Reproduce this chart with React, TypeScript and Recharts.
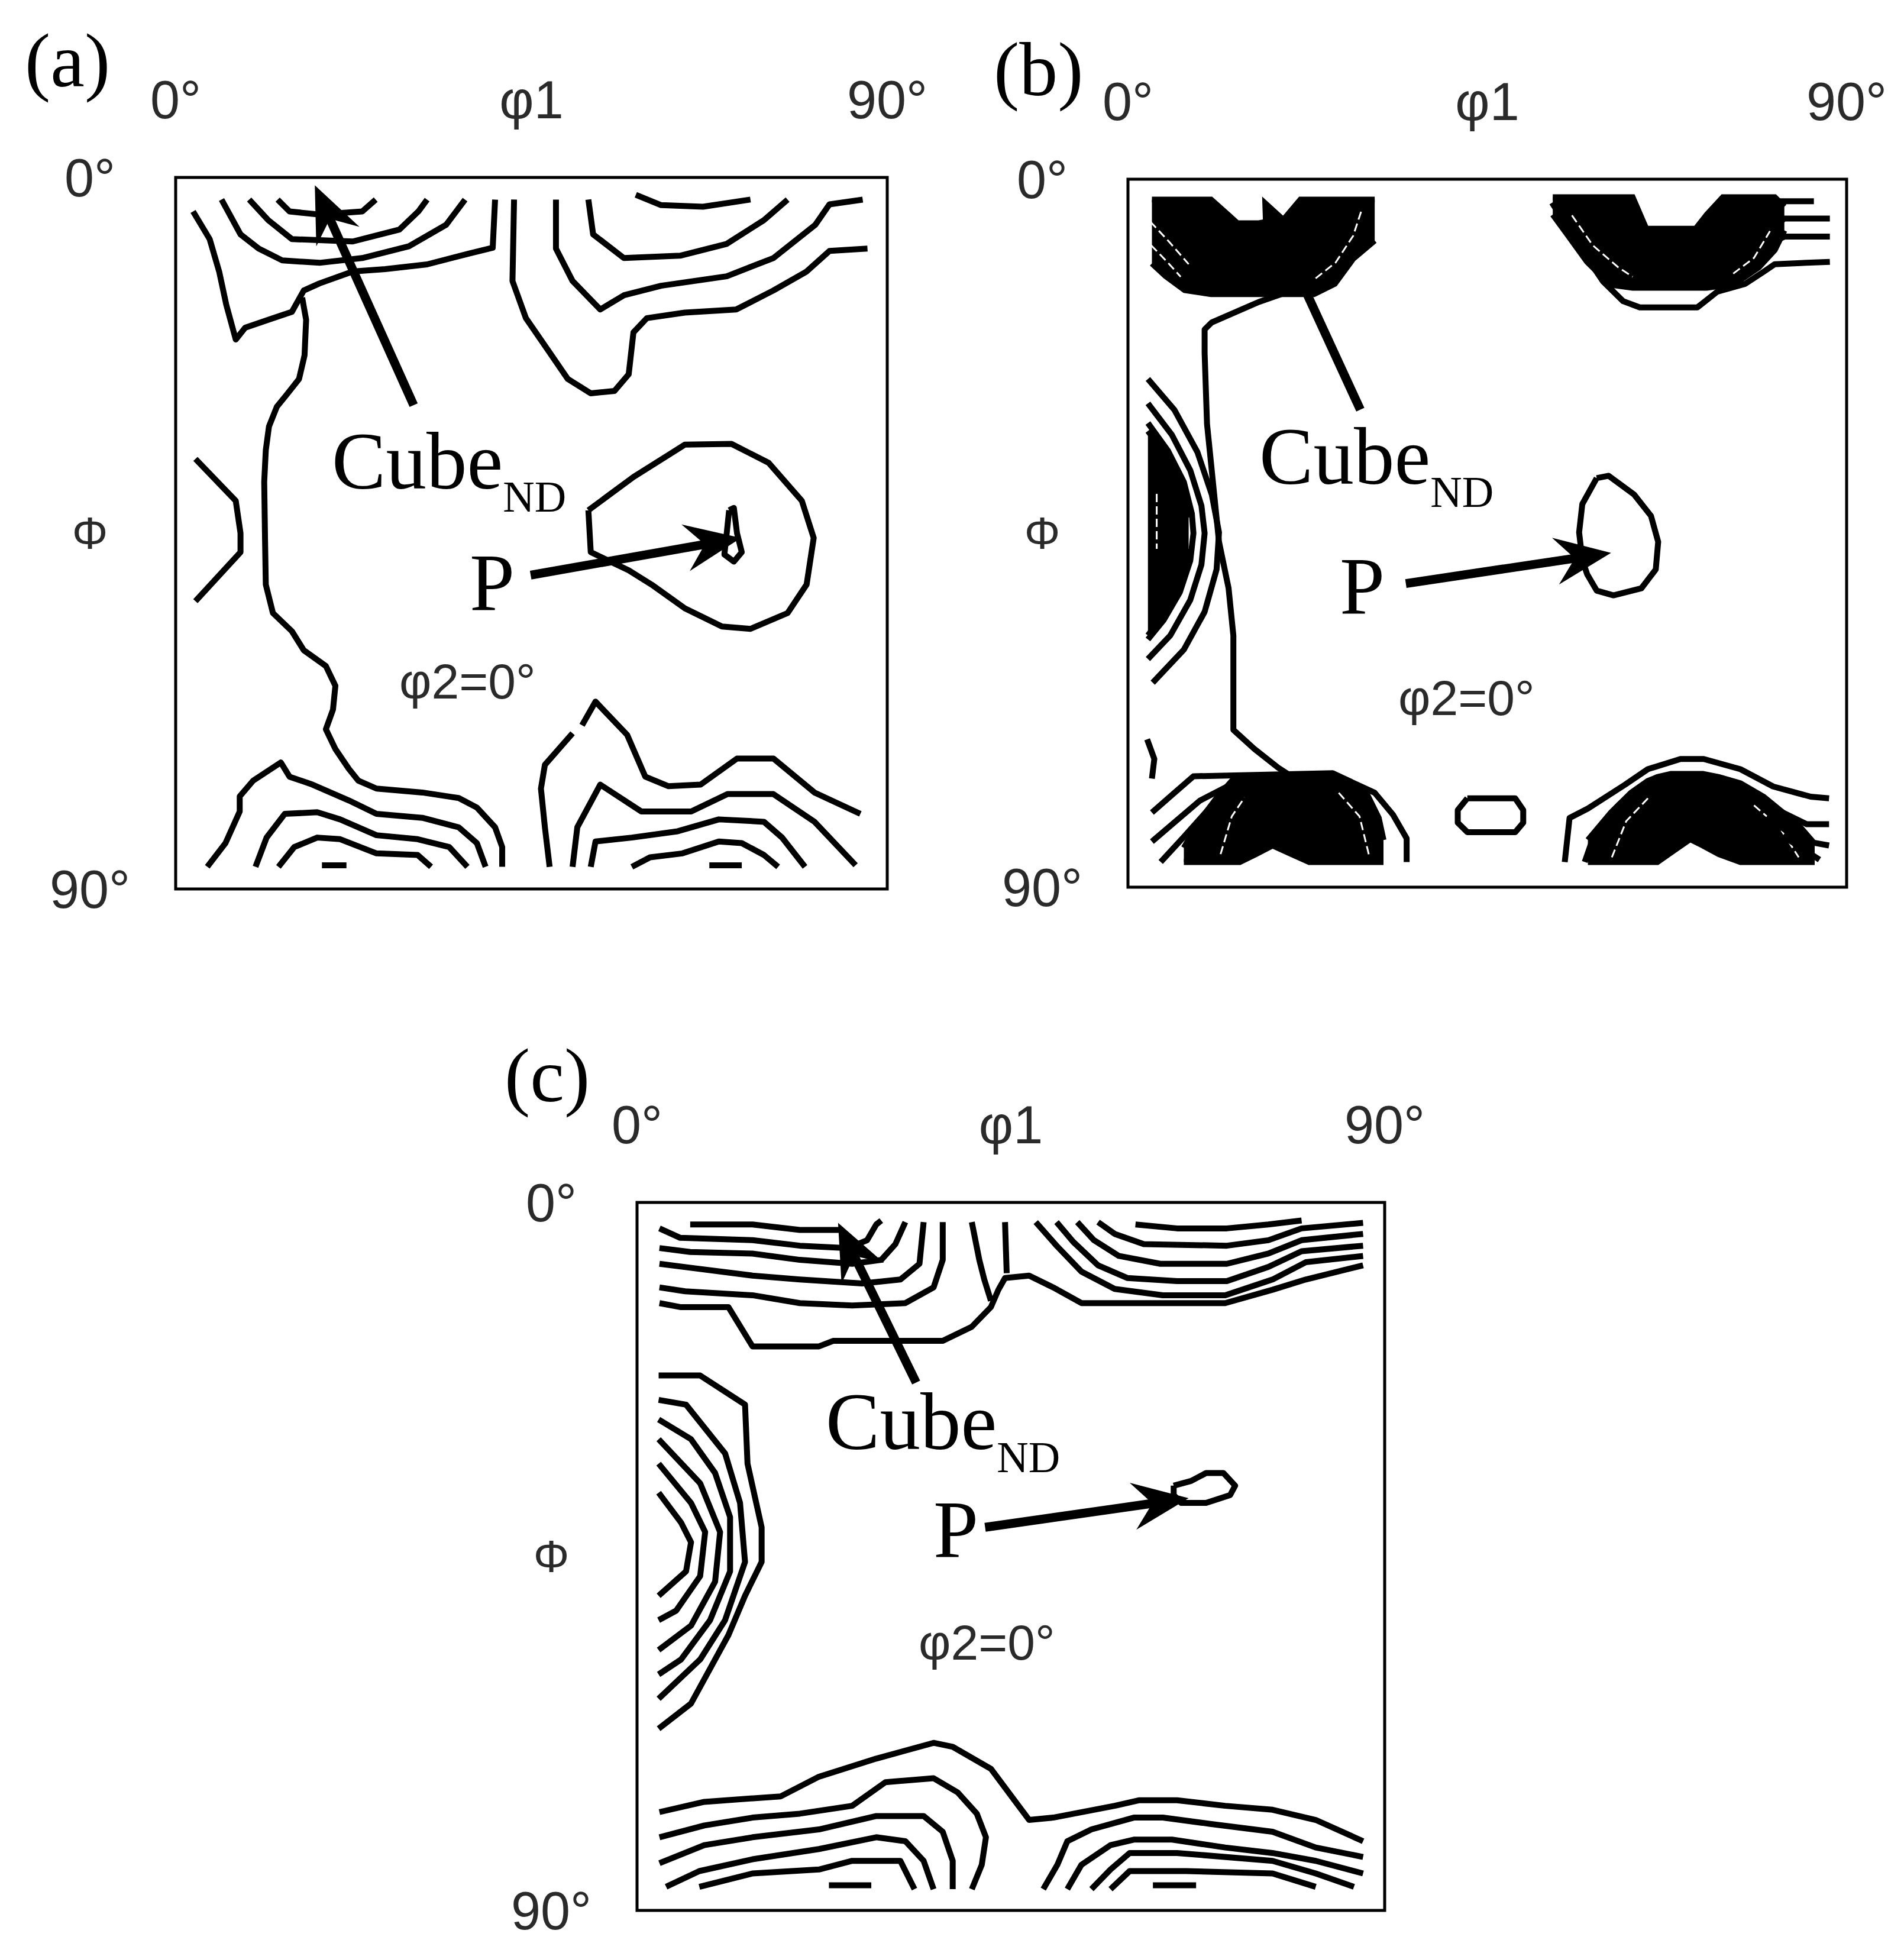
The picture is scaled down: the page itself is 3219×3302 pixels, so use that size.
import React from "react"
import {
  ComposedChart,
  Line,
  Area,
  XAxis,
  YAxis,
  ReferenceArea,
  ReferenceLine,
} from "recharts"

type Pt = [number, number]
type Band = [number, number, number]

// axis ticks (degrees) and their labels
const phi1Ticks = [0, 45, 90]
const phi1TickLabels = ["0°", "φ1", "90°"]
const bigPhiTicks = [0, 45, 90]
const bigPhiTickLabels = ["0°", "Φ", "90°"]

// ---------- (a) contour lines, [phi1, Phi] in degrees ----------
const aTL1: Pt[] = [[2.2, 4.3], [4.3, 7.8], [5.5, 11.9], [6.4, 16.1], [7.6, 20.5], [8.8, 19.0], [12.3, 17.8], [14.7, 17.0], [16.2, 14.3], [18.2, 13.4], [22.4, 11.9], [26.5, 11.6], [31.8, 11.0], [37.2, 9.6], [40.1, 8.9], [40.4, 2.8]]
const aTL2: Pt[] = [[5.8, 2.8], [8.2, 7.2], [10.5, 9.0], [13.5, 10.5], [18.2, 10.8], [23.6, 10.2], [29.5, 8.7], [34.2, 6.0], [36.6, 2.8]]
const aTL3: Pt[] = [[9.3, 2.8], [11.7, 5.4], [14.7, 7.8], [22.4, 8.1], [28.3, 6.6], [30.7, 4.3], [31.8, 2.8]]
const aTL4: Pt[] = [[12.9, 2.8], [14.4, 4.3], [18.2, 4.7], [23.6, 4.3], [25.3, 2.8]]
const aTR1: Pt[] = [[42.8, 2.8], [42.6, 13.1], [44.3, 17.8], [47.2, 22.0], [49.6, 25.5], [52.5, 27.3], [55.5, 27.0], [57.3, 24.9], [57.9, 19.6], [59.6, 17.8], [64.4, 17.1], [70.9, 16.7], [75.6, 14.3], [79.8, 11.9], [82.7, 9.3], [87.5, 9.0]]
const aTR2: Pt[] = [[48.1, 2.8], [48.1, 9.0], [50.2, 13.1], [53.7, 16.7], [56.7, 14.9], [61.4, 13.7], [69.7, 12.5], [75.6, 10.2], [80.9, 6.0], [82.7, 3.4], [86.9, 2.8]]
const aTR3: Pt[] = [[52.2, 2.8], [52.8, 7.2], [56.7, 10.2], [63.8, 9.9], [69.7, 8.4], [74.4, 5.4], [77.4, 2.8]]
const aTR4: Pt[] = [[58.2, 2.2], [61.4, 3.5], [66.7, 3.7], [72.7, 2.8]]
const aLeft: Pt[] = [[2.5, 35.6], [7.6, 40.9], [8.2, 45.0], [8.2, 47.4], [2.5, 53.6]]
const aWiggle: Pt[] = [[16.0, 15.2], [16.5, 18.0], [16.3, 22.5], [15.6, 25.5], [14.1, 27.4], [12.8, 29.0], [11.8, 31.5], [11.4, 34.5], [11.2, 38.5], [11.3, 45.6], [11.4, 51.5], [12.3, 55.1], [14.7, 57.4], [16.2, 59.8], [19.0, 61.8], [20.2, 64.3], [19.9, 67.3], [19.0, 69.8], [20.2, 72.3], [21.9, 74.8], [23.1, 76.3], [25.4, 77.3], [31.2, 77.8], [35.8, 78.5], [38.1, 79.7], [40.4, 82.2], [41.3, 84.7], [41.3, 87.2]]
const aPLoop: Pt[] = [[52.2, 42.1], [57.9, 37.9], [64.4, 33.8], [70.3, 33.7], [75.0, 36.1], [79.2, 40.9], [80.7, 45.6], [79.8, 51.5], [77.4, 55.1], [72.7, 57.1], [69.1, 56.8], [64.4, 54.5], [60.2, 51.5], [57.3, 49.7], [52.5, 47.4], [52.2, 42.1]]
const aPCore: Pt[] = [[70.0, 42.1], [70.6, 41.8], [71.0, 45.0], [71.6, 47.4], [70.6, 48.6], [69.4, 47.7], [69.7, 45.0], [70.0, 42.1]]
const aBL1: Pt[] = [[4.0, 87.2], [6.3, 84.2], [8.1, 80.2], [8.1, 78.3], [9.8, 76.3], [13.3, 74.0], [14.4, 75.8], [17.3, 76.8], [21.9, 78.8], [25.4, 80.5], [31.2, 81.0], [35.8, 82.2], [38.1, 84.2], [39.2, 87.2]]
const aBL2: Pt[] = [[10.1, 87.2], [11.5, 83.5], [13.8, 80.5], [17.9, 80.3], [20.8, 81.2], [25.4, 83.2], [30.6, 83.7], [34.6, 84.7], [36.9, 87.2]]
const aBL3: Pt[] = [[13.0, 87.2], [15.0, 84.7], [17.9, 83.5], [20.8, 83.7], [25.4, 85.5], [30.6, 85.7], [32.3, 87.2]]
const aBL4: Pt[] = [[18.5, 87.0], [21.6, 87.0]]
const aBR0a: Pt[] = [[47.3, 87.2], [46.7, 82.2], [46.2, 77.3], [46.7, 74.3], [50.2, 70.3]]
const aBR0b: Pt[] = [[51.4, 69.3], [53.1, 66.3], [57.1, 70.5], [59.4, 75.8], [62.3, 77.0], [66.4, 76.8], [71.0, 73.5], [75.6, 73.5], [80.8, 77.8], [86.6, 80.5]]
const aBR1: Pt[] = [[50.2, 87.2], [50.8, 82.2], [53.7, 76.8], [58.9, 80.2], [65.2, 80.2], [69.8, 78.0], [75.6, 78.0], [80.8, 81.5], [86.0, 87.0]]
const aBR2: Pt[] = [[52.5, 87.2], [53.1, 84.0], [57.7, 83.5], [63.5, 82.7], [68.7, 81.2], [74.4, 81.5], [76.7, 83.5], [79.6, 87.2]]
const aBR3: Pt[] = [[57.7, 87.2], [60.0, 86.0], [64.1, 85.5], [68.7, 84.0], [71.6, 84.2], [74.4, 85.7], [76.2, 87.2]]
const aBR4: Pt[] = [[67.5, 87.0], [71.6, 87.0]]
const aArrowCube: Pt[] = [[30.1, 28.8], [17.6, 1.0]]
const aArrowP: Pt[] = [[44.9, 50.3], [71.5, 45.6]]

// ---------- (b) ----------
const bTLFill: Band[] = [[3.0, 2.6, 10.7], [4.7, 2.6, 12.3], [7.1, 2.6, 14.1], [10.4, 2.6, 14.6], [12.5, 4.5, 14.6], [13.7, 5.6, 14.6], [16.4, 5.6, 14.6], [19.6, 5.0, 14.6], [21.6, 2.6, 14.6], [23.3, 2.6, 14.6], [25.9, 2.6, 13.3], [28.2, 2.6, 10.1], [30.9, 2.6, 7.8]]
const bLong: Pt[] = [[21.5, 13.8], [16.4, 15.6], [10.5, 18.2], [9.6, 19.1], [9.6, 22.1], [9.9, 31.1], [10.8, 40.1], [11.4, 46.1], [12.6, 52.0], [13.2, 58.0], [13.2, 70.0], [15.8, 72.4], [18.8, 74.8], [20.6, 76.0]]
const bArc1: Pt[] = [[2.5, 25.4], [5.8, 29.3], [8.7, 34.7], [10.5, 40.1], [11.4, 44.9], [11.1, 49.6], [9.6, 55.0], [7.0, 59.8], [3.1, 64.0]]
const bArc2: Pt[] = [[2.5, 28.5], [5.5, 32.5], [7.8, 37], [9.2, 41.5], [9.6, 45], [9.2, 49], [7.8, 53.5], [5.3, 58], [2.5, 61]]
const bArc3: Pt[] = [[2.5, 31], [5, 34.5], [7, 38.5], [8, 42.5], [8.2, 45], [7.8, 48.5], [6.5, 52.5], [4.5, 56], [2.5, 58.5]]
const bLeftFill: Band[] = [[2.5, 32, 58], [4, 34, 56], [5.5, 36.5, 53.5], [6.5, 38.5, 51], [7.2, 41, 49], [7.6, 43, 47]]
const bSmall: Pt[] = [[2.4, 71.2], [3.3, 73.7], [3.0, 76.2]]
const bBLOuter: Pt[] = [[3.0, 80.5], [5.6, 78.2], [8.2, 75.9], [25.6, 75.5], [30.9, 78.0], [33.2, 80.8], [34.9, 83.8], [34.9, 86.8]]
const bBL2: Pt[] = [[3.0, 84.2], [6, 81.6], [9, 79.0], [12.8, 77.0]]
const bBL3: Pt[] = [[4.1, 86.8], [7, 83.6], [10, 80.2], [13.4, 78.2]]
const bBLFill: Band[] = [[7, 85, 86.8], [9, 81.5, 86.8], [11, 78.8, 86.8], [13, 76.5, 86.8], [14, 75.9, 86.8], [16, 75.9, 85.8], [18.1, 75.9, 84.7], [20.5, 75.9, 85.8], [22.7, 75.9, 86.8], [25.6, 75.9, 86.8], [28, 76.8, 86.8], [29.7, 77.7, 86.8], [31.4, 81.2, 86.8], [32.0, 84, 86.8]]
const bOval: Pt[] = [[42.5, 78.7], [48.5, 78.7], [49.5, 80.2], [49.5, 81.8], [48.5, 83.0], [42.5, 83.0], [41.3, 81.8], [41.3, 80.2], [42.5, 78.7]]
const bBROuter: Pt[] = [[54.7, 86.8], [55.3, 81.2], [57.6, 80.0], [62.2, 77.0], [65.1, 75.0], [69.2, 73.7], [72.1, 73.7], [76.7, 75.0], [80.8, 77.2], [85.5, 78.5], [87.8, 78.7]]
const bBR2: Pt[] = [[57.2, 86.8], [58.5, 83], [61.5, 79.5], [64, 77.5]]
const bBR3: Pt[] = [[78, 78.2], [82, 80.5], [85, 82], [87.8, 82.0]]
const bBR4: Pt[] = [[80, 81], [84, 84], [87.8, 84.7]]
const bBR5: Pt[] = [[82, 83.5], [86.6, 86.5]]
const bBRFill: Band[] = [[57.6, 84, 86.8], [60.5, 80.5, 86.8], [63, 78, 86.8], [65.1, 76.5, 86.8], [66.3, 76.0, 86.8], [68, 75.6, 85.6], [70.4, 75.6, 83.9], [72, 75.6, 84.7], [74, 76, 85.8], [76.7, 76.8, 86.8], [79.6, 78.5, 86.8], [82, 80.5, 86.8], [84.3, 82.5, 86.8], [86, 84.5, 86.8]]
const bTRFill: Band[] = [[53.2, 2.3, 4.5], [55, 2.3, 7], [57.5, 2.3, 10.5], [59.5, 2.3, 12.5], [61, 2.3, 13.5], [63.2, 2.3, 13.8], [64.9, 6.3, 13.8], [71.1, 6.3, 13.8], [72.5, 4.5, 13.8], [74.5, 2.3, 13.5], [76.7, 2.3, 12.8], [79, 2.3, 11.2], [81, 2.3, 9.0], [82.2, 3.5, 6.5]]
const bTROuter: Pt[] = [[53.1, 3.0], [55, 6], [57.5, 10], [59.5, 13], [62, 15.5], [64.1, 16.3], [71.3, 16.3], [73.8, 14.3], [77.3, 13.3], [79.7, 11.7], [81, 10.8], [87.9, 10.5]]
const bTR2: Pt[] = [[80.5, 2.8], [85.9, 2.8]]
const bTR3: Pt[] = [[80.7, 6.3], [82.2, 5.0], [87.9, 5.0]]
const bTR4: Pt[] = [[80.7, 8.0], [82.2, 7.3], [87.9, 7.3]]
const bPLoop: Pt[] = [[58.7, 38.0], [60.2, 37.7], [63.4, 40.1], [65.5, 42.8], [66.4, 46.1], [66.1, 49.6], [64.3, 52.0], [60.8, 52.9], [58.7, 52.3], [57.5, 50.2], [56.9, 48.4], [56.5, 44.9], [56.9, 41.3], [58.7, 38.0]]
const bArrowCube: Pt[] = [[29.1, 29.3], [16.8, 2.2]]
const bArrowP: Pt[] = [[34.8, 51.4], [60.5, 47.5]]
// thin white gaps left between packed contours inside the dense maxima
const bGapTL1: Pt[] = [[23.5, 12.6], [26.0, 10.6], [28.2, 7.2], [29.3, 3.8]]
const bGapTL2: Pt[] = [[2.8, 5.4], [5.2, 8.0], [7.6, 10.8]]
const bGapTL3: Pt[] = [[2.9, 8.4], [5.0, 10.6], [6.6, 12.4]]
const bGapTR1: Pt[] = [[55.6, 4.6], [58.2, 8.4], [61.4, 11.2], [63.2, 12.4]]
const bGapTR2: Pt[] = [[75.8, 12.0], [78.4, 10.0], [80.4, 6.6]]
const bGapLeft: Pt[] = [[3.6, 40.0], [3.6, 47.0]]
const bGapBR1: Pt[] = [[60.6, 86.2], [62.4, 81.6], [65.4, 78.4]]
const bGapBR2: Pt[] = [[78.4, 79.6], [81.6, 82.4], [84.0, 86.2]]
const bGapBL1: Pt[] = [[11.6, 85.8], [13.0, 81.0], [14.6, 78.6]]
const bGapBL2: Pt[] = [[26.4, 78.0], [29.0, 81.0], [30.2, 86.0]]

// ---------- (c) ----------
const cL1: Pt[] = [[6.4, 2.8], [13.9, 2.8], [19.6, 3.5], [24.8, 3.5]]
const cL2: Pt[] = [[2.7, 3.3], [5.2, 4.5], [13.9, 4.8], [19.6, 5.5], [25.4, 5.8], [27.7, 4.8], [28.8, 2.8], [29.4, 2.3]]
const cL3: Pt[] = [[2.7, 5.8], [6.4, 6.3], [13.9, 6.5], [19.6, 7.3], [25.9, 7.8], [29.4, 7.3], [31.1, 5.3], [32.3, 2.5]]
const cL4: Pt[] = [[2.7, 7.8], [6.4, 8.3], [13.9, 9.3], [19.6, 9.8], [27.1, 10.3], [31.7, 9.8], [34.0, 7.8], [34.5, 2.5]]
const cL5: Pt[] = [[2.7, 10.8], [5.8, 11.3], [13.9, 11.8], [19.6, 12.8], [25.9, 13.1], [32.3, 12.8], [35.7, 10.8], [36.8, 7.3], [36.8, 2.5]]
const cTopOuter: Pt[] = [[2.7, 12.8], [5.2, 13.3], [11.0, 13.3], [13.9, 18.3], [21.9, 18.3], [23.6, 17.6], [36.8, 17.6], [40.3, 15.8], [42.6, 13.3], [43.5, 11.1], [44.3, 9.6], [47.2, 9.3], [50.1, 10.8], [53.5, 12.8], [70.8, 12.8], [76.5, 11.1], [80.5, 9.8], [87.4, 8.0]]
const cV1: Pt[] = [[40.3, 2.5], [41.2, 7.3], [41.8, 9.8], [42.6, 12.5]]
const cV2: Pt[] = [[44.3, 2.5], [44.5, 9.0]]
const cR1: Pt[] = [[48.0, 2.5], [50.5, 5.5], [53.5, 8.8], [57.5, 11.0], [63.3, 11.8], [70.8, 11.8], [76.5, 9.8], [80.5, 7.6], [87.4, 6.8]]
const cR2: Pt[] = [[50.5, 2.5], [52.5, 5.0], [55.5, 8.0], [59, 9.6], [65, 10.0], [71, 10.0], [76, 8.2], [80, 6.2], [87.4, 5.5]]
const cR3: Pt[] = [[53.0, 2.5], [55, 4.8], [58, 6.8], [63, 7.8], [71, 7.8], [76, 6.5], [80, 4.8], [87.4, 4.0]]
const cR4: Pt[] = [[55.5, 2.5], [57.5, 4.0], [61, 5.3], [71, 5.5], [76, 4.8], [80, 3.3], [87.4, 2.6]]
const cR5: Pt[] = [[60, 2.8], [65, 3.3], [71, 3.3], [76, 2.8], [80, 2.3]]
const cA1: Pt[] = [[2.6, 22.0], [7.6, 22.0], [13.0, 25.7], [13.3, 33.2], [15.0, 41.3], [15.0, 45.7], [13.0, 50.0], [11.0, 55], [6.5, 63.7], [2.6, 66.9]]
const cA2: Pt[] = [[2.6, 25.1], [5.9, 25.7], [10.6, 31.9], [12.4, 38.2], [13.0, 45.7], [10.6, 53.1], [7.6, 58.1], [2.6, 63.1]]
const cA3: Pt[] = [[2.6, 27.6], [6.5, 30.1], [9.4, 34.4], [11.2, 40.0], [11.2, 46.9], [8.8, 53.1], [5.3, 58.1], [2.6, 60.0]]
const cA4: Pt[] = [[2.6, 30.1], [7.6, 35.7], [10.0, 41.9], [9.4, 48.2], [6.5, 53.8], [2.6, 56.9]]
const cA5: Pt[] = [[2.6, 33.2], [6.5, 38.2], [8.2, 41.9], [7.6, 47.5], [4.7, 51.9], [2.6, 53.1]]
const cA6: Pt[] = [[2.6, 36.9], [5.3, 40.7], [6.5, 43.2], [5.9, 46.9], [2.6, 50.0]]
const cBotOuter: Pt[] = [[2.7, 77.5], [8.1, 76.2], [17.3, 75.5], [21.9, 73.0], [28.8, 70.7], [35.7, 68.7], [38.0, 69.2], [42.6, 72.0], [47.2, 78.5], [50.1, 78.2], [57.5, 76.7], [60.4, 76.0], [65.0, 76.0], [70.8, 76.7], [76.5, 77.2], [81.7, 78.5], [87.4, 81.2]]
const cBL1: Pt[] = [[2.7, 80.7], [8.1, 79.2], [13.9, 78.2], [19.6, 77.7], [25.9, 76.7], [29.9, 73.7], [35.7, 73.2], [38.6, 75.0], [40.9, 77.7], [42.0, 80.7], [41.5, 84.2], [40.3, 87.3]]
const cBL2: Pt[] = [[2.7, 84.0], [8.1, 81.7], [13.9, 80.7], [21.9, 79.7], [28.8, 78.0], [34.5, 78.0], [36.8, 80.0], [38.0, 83.7], [38.0, 87.3]]
const cBL3: Pt[] = [[3.5, 87.0], [7.5, 85.0], [13.9, 83.5], [21.9, 82.2], [28.8, 80.7], [32.3, 81.2], [34.5, 83.7], [35.7, 87.3]]
const cBL4: Pt[] = [[7.5, 87.0], [13.9, 85.3], [21.9, 84.8], [25.9, 83.7], [31.7, 83.7], [33.4, 87.3]]
const cBL5: Pt[] = [[23.1, 86.8], [28.2, 86.8]]
const cBR1: Pt[] = [[48.9, 87.3], [50.6, 84.2], [51.8, 81.2], [54.7, 79.7], [59.8, 78.2], [63.3, 78.2], [69.0, 79.0], [76.5, 80.0], [81.7, 82.0], [87.4, 83.2]]
const cBR2: Pt[] = [[51.8, 87.3], [53.5, 84.2], [57.0, 81.7], [59.8, 81.0], [64.4, 81.0], [70.8, 82.0], [76.5, 82.7], [81.7, 83.7], [87.4, 85.3]]
const cBR3: Pt[] = [[54.7, 87.3], [57.0, 84.8], [59.3, 82.7], [65.0, 82.7], [76.5, 83.7], [81.7, 85.3], [86.3, 87.0]]
const cBR4: Pt[] = [[57.0, 87.3], [59.3, 85.0], [66.1, 85.0], [76.5, 85.3], [81.7, 87.0]]
const cBR5: Pt[] = [[62.1, 86.8], [67.3, 86.8]]
const cPLoop: Pt[] = [[64.6, 36.0], [66.7, 35.4], [68.5, 34.4], [70.6, 34.4], [72.0, 36.0], [71.4, 37.2], [68.5, 38.2], [65.5, 38.2], [64.6, 37.2], [64.6, 36.0]]
const cArrowCube: Pt[] = [[33.6, 22.9], [24.2, 2.6]]
const cArrowP: Pt[] = [[41.9, 41.3], [66.4, 37.6]]

const aLines = [aTL1, aTL2, aTL3, aTL4, aTR1, aTR2, aTR3, aTR4, aLeft, aWiggle, aPLoop, aPCore, aBL1, aBL2, aBL3, aBL4, aBR0a, aBR0b, aBR1, aBR2, aBR3, aBR4]
const bLines = [bLong, bArc1, bArc2, bArc3, bSmall, bBLOuter, bBL2, bBL3, bOval, bBROuter, bBR2, bBR3, bBR4, bBR5, bTROuter, bTR2, bTR3, bTR4, bPLoop]
const bBands = [bTLFill, bLeftFill, bBLFill, bBRFill, bTRFill]
const bGaps = [bGapTL1, bGapTL2, bGapTL3, bGapTR1, bGapTR2, bGapLeft, bGapBR1, bGapBR2, bGapBL1, bGapBL2]
const cLines = [cL1, cL2, cL3, cL4, cL5, cTopOuter, cV1, cV2, cR1, cR2, cR3, cR4, cR5, cA1, cA2, cA3, cA4, cA5, cA6, cBotOuter, cBL1, cBL2, cBL3, cBL4, cBL5, cBR1, cBR2, cBR3, cBR4, cBR5, cPLoop]

const serif = "'Liberation Serif', 'Times New Roman', serif"
const sans = "'Liberation Sans Narrow', 'Liberation Sans', Arial, sans-serif"

const toPts = (pts: Pt[]) => pts.map(([x, y]) => ({ x, y }))
const toBand = (rows: Band[]) => rows.map(([x, lo, hi]) => ({ x, y: [lo, hi] }))

const TopTick = (p: any) => {
  const i = phi1Ticks.indexOf(p.payload.value)
  return (
    <text x={p.x} y={p.y - 100} textAnchor="middle" fontFamily={sans} fontSize={90} fill="#2a2a2a">
      {phi1TickLabels[i]}
    </text>
  )
}

const LeftTick = (p: any) => {
  const i = bigPhiTicks.indexOf(p.payload.value)
  const mid = i === 1
  return (
    <text x={p.x - 145} y={p.y + (mid ? 26 : 32)} textAnchor="middle" fontFamily={sans} fontSize={mid ? 76 : 90} fill="#2a2a2a">
      {bigPhiTickLabels[i]}
    </text>
  )
}

// shaft + notched head, drawn in pixel space from the segment end points
const ArrowShape = (p: any) => {
  const { x1, y1, x2, y2 } = p
  const dx = x2 - x1
  const dy = y2 - y1
  const len = Math.hypot(dx, dy) || 1
  const ux = dx / len
  const uy = dy / len
  const nx = -uy
  const ny = ux
  const L = 95
  const W = 40
  const N = 62
  const bx = x2 - ux * L
  const by = y2 - uy * L
  const mx = x2 - ux * N
  const my = y2 - uy * N
  const pts = [
    [x2, y2],
    [bx + nx * W, by + ny * W],
    [mx, my],
    [bx - nx * W, by - ny * W],
  ]
  return (
    <g>
      <line x1={x1} y1={y1} x2={mx + ux * 4} y2={my + uy * 4} stroke="#000" strokeWidth={15} />
      <polygon points={pts.map((q) => q.join(",")).join(" ")} fill="#000" />
    </g>
  )
}

type PanelProps = {
  width: number
  height: number
  margin: { top: number; right: number; bottom: number; left: number }
  lines: Pt[][]
  bands?: Band[][]
  gaps?: Pt[][]
  arrows: Pt[][]
}

function OdfPanel({ width, height, margin, lines, bands = [], gaps = [], arrows }: PanelProps) {
  return (
    <ComposedChart width={width} height={height} margin={margin}>
      <XAxis
        type="number"
        dataKey="x"
        orientation="top"
        domain={[0, 90]}
        ticks={phi1Ticks}
        interval={0}
        allowDataOverflow
        height={100}
        axisLine={false}
        tickLine={false}
        tickSize={0}
        tickMargin={0}
        tick={TopTick}
      />
      <YAxis
        type="number"
        domain={[0, 90]}
        reversed
        ticks={bigPhiTicks}
        interval={0}
        allowDataOverflow
        width={150}
        axisLine={false}
        tickLine={false}
        tickSize={0}
        tickMargin={0}
        tick={LeftTick}
      />
      {bands.map((b, i) => (
        <Area
          key={`band-${i}`}
          data={toBand(b)}
          dataKey="y"
          type="linear"
          fill="#000"
          fillOpacity={1}
          stroke="#000"
          strokeWidth={10}
          dot={false}
          activeDot={false}
          legendType="none"
          isAnimationActive={false}
        />
      ))}
      {gaps.map((g, i) => (
        <Line
          key={`gap-${i}`}
          data={toPts(g)}
          dataKey="y"
          type="linear"
          stroke="#fff"
          strokeWidth={3}
          strokeDasharray="14 7"
          dot={false}
          activeDot={false}
          legendType="none"
          isAnimationActive={false}
        />
      ))}
      {lines.map((l, i) => (
        <Line
          key={`line-${i}`}
          data={toPts(l)}
          dataKey="y"
          type="linear"
          stroke="#000"
          strokeWidth={10}
          strokeLinejoin="round"
          dot={false}
          activeDot={false}
          legendType="none"
          isAnimationActive={false}
        />
      ))}
      <ReferenceArea x1={0} x2={90} y1={0} y2={90} fill="none" stroke="#000" strokeWidth={5} ifOverflow="visible" />
      {arrows.map((a, i) => (
        <ReferenceLine
          key={`arrow-${i}`}
          segment={[{ x: a[0][0], y: a[0][1] }, { x: a[1][0], y: a[1][1] }]}
          shape={ArrowShape}
          ifOverflow="visible"
        />
      ))}
    </ComposedChart>
  )
}

const Note = ({ x, y, panel }: { x: number; y: number; panel: string }) => (
  <text x={x} y={y} fontFamily={serif} fontSize={130} fill="#000">
    {panel}
  </text>
)

const CubeLabel = ({ x, y }: { x: number; y: number }) => (
  <text x={x} y={y} fontFamily={serif} fontSize={137} fill="#000">
    Cube
    <tspan dy={39} fontSize={74}>ND</tspan>
  </text>
)

const PLabel = ({ x, y }: { x: number; y: number }) => (
  <text x={x} y={y} fontFamily={serif} fontSize={137} fill="#000">
    P
  </text>
)

const SectionLabel = ({ x, y }: { x: number; y: number }) => (
  <text x={x} y={y} fontFamily="'Liberation Sans', Arial, sans-serif" fontSize={84} fill="#2a2a2a">
    φ2=0°
  </text>
)

export default function App() {
  return (
    <div style={{ position: "absolute", left: 0, top: 0, width: 3219, height: 3302, background: "#fff", overflow: "hidden" }}>
      <div style={{ position: "absolute", left: 0, top: 0 }}>
        <OdfPanel
          width={1600}
          height={1600}
          margin={{ top: 200, right: 100, bottom: 97, left: 147 }}
          lines={aLines}
          arrows={[aArrowCube, aArrowP]}
        />
      </div>
      <div style={{ position: "absolute", left: 1600, top: 0 }}>
        <OdfPanel
          width={1619}
          height={1600}
          margin={{ top: 203, right: 97, bottom: 100, left: 157 }}
          lines={bLines}
          bands={bBands}
          gaps={bGaps}
          arrows={[bArrowCube, bArrowP]}
        />
      </div>
      <div style={{ position: "absolute", left: 700, top: 1750 }}>
        <OdfPanel
          width={1750}
          height={1552}
          margin={{ top: 183, right: 109, bottom: 72, left: 227 }}
          lines={cLines}
          arrows={[cArrowCube, cArrowP]}
        />
      </div>
      <svg width={3219} height={3302} style={{ position: "absolute", left: 0, top: 0, pointerEvents: "none" }}>
        <Note x={42} y={146} panel="(a)" />
        <Note x={1680} y={161} panel="(b)" />
        <Note x={853} y={1862} panel="(c)" />
        <CubeLabel x={561} y={826} />
        <CubeLabel x={2129} y={818} />
        <CubeLabel x={1396} y={2450} />
        <PLabel x={794} y={1031} />
        <PLabel x={2265} y={1037} />
        <PLabel x={1578} y={2632} />
        <SectionLabel x={675} y={1181} />
        <SectionLabel x={2364} y={1209} />
        <SectionLabel x={1553} y={2806} />
      </svg>
    </div>
  )
}
